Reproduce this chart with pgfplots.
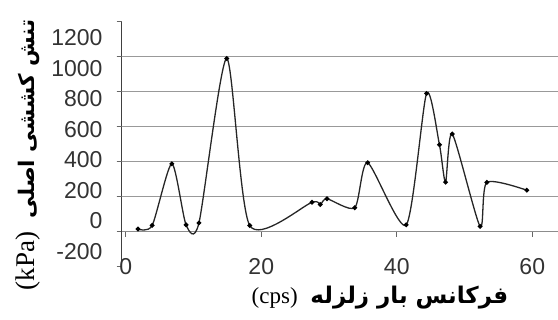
\documentclass[border=0pt]{standalone}
\usepackage{pgfplots}
\pgfplotsset{compat=1.18}
\usepackage{fontspec}
\setmainfont{Liberation Sans}
\newfontfamily\serif{Liberation Serif}
\newfontfamily\arabicfont[Script=Arabic]{DejaVu Sans}
\TeXXeTstate=1
\begin{document}
\begin{tikzpicture}
\useasboundingbox (0pt,0pt) rectangle (558pt,320pt);
\begin{axis}[
  at={(121.7pt,53.3pt)}, anchor=south west,
  scale only axis, width=436.3pt, height=245pt,
  xmin=-0.6, xmax=63.8, ymin=-200, ymax=1200,
  axis y line=left, axis x line=middle,
  axis line style={-},
  y axis line style={black!75, line width=0.8pt},
  x axis line style={black!45, line width=0.7pt},
  xtick={0,20,40,60}, ytick={-200,0,...,1200},
  tick align=outside,
  major tick length=5pt,
  every tick/.style={black!60, line width=0.7pt},
  extra y ticks={200,400,600,800,1000},
  extra y tick labels={},
  extra y tick style={grid=major, major grid style={black!40, line width=0.7pt}},
  /pgf/number format/assume math mode=true,
  /pgf/number format/1000 sep={},
  tick label style={font=\fontsize{23}{25}\selectfont, text=black!80, inner sep=0pt, text height=16.5pt, text depth=0pt},
  yticklabel={\pgfmathsetmacro\ysh{(500-\tick)*0.0226}\raisebox{\ysh pt}{\pgfmathprintnumber{\tick}}},
  yticklabel style={anchor=east, xshift=-14pt},
  xticklabel style={anchor=center, yshift=-30pt},
  xlabel={{\serif (cps)}\ \ {\arabicfont\bfseries\beginR فرکانس بار زلزله\endR}},
  ylabel={{\fontsize{27}{29}\selectfont\serif (kPa)}\ \ {\fontsize{21.5}{26}\selectfont\arabicfont\bfseries\beginR تنش کششی اصلی\endR}},
  xlabel style={at={(rel axis cs:0.592,0)}, anchor=center, yshift=-31pt, font=\fontsize{23}{25}\selectfont, inner sep=0pt},
  ylabel style={at={(rel axis cs:0,0.456)}, anchor=center, yshift=94pt, font=\fontsize{24}{26}\selectfont, inner sep=0pt},
  clip=false,
]
\addplot[smooth, tension=0.42, color=black!85, line width=1.3pt, mark=*, mark size=1.7pt, mark options={fill=black, draw=black}] coordinates {
(1.8,15) (3.9,36) (6.8,388) (8.9,39) (10.8,50) (14.9,990) (18.3,35)
(27.5,168) (28.7,155) (29.7,188) (33.8,137) (35.7,394) (41.4,39)
(44.4,790) (46.3,497) (47.2,283) (48.2,558) (52.3,30) (53.3,282) (59.2,237)
};
\end{axis}
\end{tikzpicture}
\end{document}
